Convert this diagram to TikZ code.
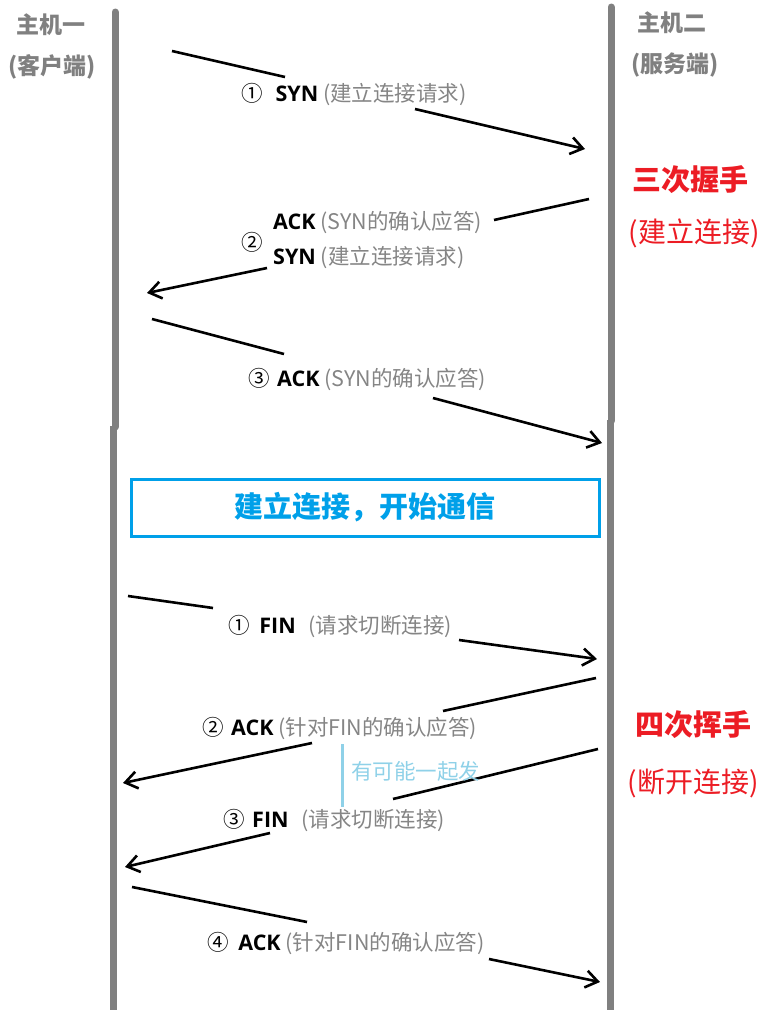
\documentclass[tikz,border=0pt]{standalone}
\usepackage{fontspec}
\setmainfont{Noto Sans CJK SC}
\newfontfamily\latinsans{Open Sans}
\usetikzlibrary{arrows.meta}
\definecolor{lifegray}{HTML}{808080}
\definecolor{notegray}{HTML}{858585}
\definecolor{hsred}{HTML}{EC1C24}
\definecolor{boxblue}{HTML}{00A0E9}
\definecolor{hintblue}{HTML}{8FD1E8}
\tikzset{
  life/.style={line width=7pt, lifegray},
  msg/.style={line width=2.6pt, black},
  msgarrow/.style={msg, -{Straight Barb[length=12pt,width=17pt]}},
  lbl/.style={anchor=west, inner sep=0pt, font=\fontsize{21.5}{25}\selectfont},
  header/.style={inner sep=0pt, text=lifegray, font=\fontsize{23}{27}\selectfont\bfseries},
  redtitle/.style={inner sep=0pt, text=hsred, font=\fontsize{29}{33}\selectfont\bfseries},
  redsub/.style={inner sep=0pt, text=hsred, font=\fontsize{28}{32}\selectfont},
}
\newcommand{\grayp}[1]{\textcolor{notegray}{#1}}
\newcommand{\kw}[1]{{\latinsans\bfseries #1}}
\begin{document}
\begin{tikzpicture}[x=1pt,y=-1pt]
\useasboundingbox (0,0) rectangle (774,1026);
% lifelines
\draw[life, line cap=round] (115,12) -- (115,427);
\draw[life] (113.5,426) -- (113.5,1010);
\draw[life, line cap=round] (611,7) -- (611,421);
\draw[life] (610,420) -- (610,1010);
% headers
\node[header] (h1) at (51,25) {主机一};
\node[header] (h1b) at (52,67) {(客户端)};
\node[header] (h2) at (672,23) {主机二};
\node[header] (h2b) at (675,65) {(服务端)};
\node[redtitle] (t3) at (690,180) {三次握手};
\node[redsub] (t3b) at (694,233) {(建立连接)};
\node[redtitle] (t4) at (693,725) {四次挥手};
\node[redsub] (t4b) at (693,783) {(断开连接)};
% coordinates of message segments
\coordinate (a1s) at (172,51);  \coordinate (a1m) at (285,77);
\coordinate (a1n) at (415,109); \coordinate (a1e) at (585,149);
\coordinate (a2s) at (589,199); \coordinate (a2m) at (494,220);
\coordinate (a2n) at (267,268); \coordinate (a2e) at (147,293);
\coordinate (a3s) at (152,319); \coordinate (a3m) at (284,354);
\coordinate (a3n) at (433,398); \coordinate (a3e) at (602,443);
\coordinate (a4s) at (128,596); \coordinate (a4m) at (213,608);
\coordinate (a4n) at (459,640); \coordinate (a4e) at (597,659);
\coordinate (a5s) at (596,678); \coordinate (a5m) at (443,711);
\coordinate (a5n) at (312,743); \coordinate (a5e) at (123,783);
\coordinate (a6s) at (598,749); \coordinate (a6m) at (393,799);
\coordinate (a6n) at (270,833); \coordinate (a6e) at (125,867);
\coordinate (a7s) at (132,887); \coordinate (a7m) at (307,922);
\coordinate (a7n) at (489,959); \coordinate (a7e) at (600,982);
% message lines
\draw[msg] (a1s) -- (a1m);  \draw[msgarrow] (a1n) -- (a1e);
\draw[msg] (a2s) -- (a2m);  \draw[msgarrow] (a2n) -- (a2e);
\draw[msg] (a3s) -- (a3m);  \draw[msgarrow] (a3n) -- (a3e);
\draw[msg] (a4s) -- (a4m);  \draw[msgarrow] (a4n) -- (a4e);
\draw[msg] (a5s) -- (a5m);  \draw[msgarrow] (a5n) -- (a5e);
\draw[msg] (a6s) -- (a6m);  \draw[msgarrow] (a6n) -- (a6e);
\draw[msg] (a7s) -- (a7m);  \draw[msgarrow] (a7n) -- (a7e);
% labels
\node[lbl] (l1) at (241,95) {①\hspace{0.6em}\kw{SYN} \grayp{(建立连接请求)}};
\node[lbl] (l2a) at (273,222) {\kw{ACK} \grayp{(SYN的确认应答)}};
\node[lbl] (l2b) at (273,258) {\kw{SYN} \grayp{(建立连接请求)}};
\node[inner sep=0pt, font=\fontsize{21.5}{25}\selectfont] (l2n) at (252,242) {②};
\node[lbl] (l3) at (248,379) {③\hspace{0.35em}\kw{ACK} \grayp{(SYN的确认应答)}};
% established box
\node[draw=boxblue, line width=3pt, minimum width=468pt, minimum height=57pt, inner sep=0pt,
      text=boxblue, font=\fontsize{29}{33}\selectfont\bfseries] (est) at (365,507.5) {建立连接，开始通信};
\node[lbl] (l4) at (228,627) {①\hspace{0.45em}\kw{FIN}\hspace{0.6em}\grayp{(请求切断连接)}};
\node[lbl] (l5) at (202,728) {②\hspace{0.35em}\kw{ACK} \grayp{(针对FIN的确认应答)}};
\node[lbl] (l6) at (223,821) {③\hspace{0.35em}\kw{FIN}\hspace{0.6em}\grayp{(请求切断连接)}};
\node[lbl] (l7) at (207,943) {④\hspace{0.45em}\kw{ACK} \grayp{(针对FIN的确认应答)}};
% hint
\coordinate (hs) at (342,744); \coordinate (he) at (342,807);
\draw[hintblue, line width=3pt] (hs) -- (he);
\node[lbl, text=hintblue] (hint) at (351,771) {有可能一起发};
\end{tikzpicture}
\end{document}
